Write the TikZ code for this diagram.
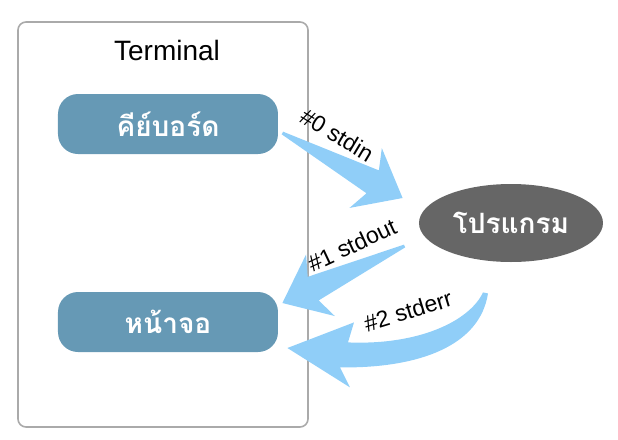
\documentclass[tikz,border=0pt]{standalone}
\usepackage{fontspec}
\setmainfont{Liberation Sans}
\newfontfamily\thaifont[Script=Thai]{Loma}
\usepackage{tikz}
\usetikzlibrary{positioning,shapes.geometric,calc}
\definecolor{boxblue}{HTML}{6699B5}
\definecolor{arrowblue}{HTML}{90CEF8}
\definecolor{termgray}{HTML}{AAAAAA}
\tikzstyle{flow} = [fill=arrowblue]
\newcommand{\fatarrow}[2]{%
	\fill[flow] ($(#1)!0.75pt!90:(#2)$)
		-- ($(#2)!17pt!(#1)!6.5pt!-90:(#1)$)
		-- ($(#2)!21pt!(#1)!17pt!-90:(#1)$)
		-- (#2)
		-- ($(#2)!21pt!(#1)!17pt!90:(#1)$)
		-- ($(#2)!17pt!(#1)!6.5pt!90:(#1)$)
		-- ($(#1)!0.75pt!-90:(#2)$) -- cycle;}

\begin{document}
\begin{tikzpicture}[x=0.5pt,y=-0.5pt,node distance=99pt]
			\tikzstyle{device} = [rectangle, rounded corners=10pt, fill=boxblue, text=white, align=center, minimum height=30pt, minimum width=110pt, font=\thaifont\bfseries\fontsize{14}{16}\selectfont];
			\tikzstyle{stream} = [font=\fontsize{11.5}{13}\selectfont, inner sep=0pt];
			\useasboundingbox (0,0) rectangle (618,440);
			\node (term) [rectangle, rounded corners=4pt, draw=termgray, line width=0.8pt, minimum width=145pt, minimum height=202.5pt] at (163,224.5) {};
			\node (title) at (167,50) {\fontsize{14}{16}\selectfont Terminal};
			\node (kbd) [device] at (168,124) {คีย์บอร์ด};
			\node (scr) [device, below of=kbd] {หน้าจอ};
			\node (prog) [ellipse, fill=black!60, text=white, inner sep=0pt, minimum width=92pt, minimum height=39pt, font=\thaifont\bfseries\fontsize{14}{16}\selectfont] at (511,223) {โปรแกรม};
			\coordinate (in0) at ([shift={(4,9)}]kbd.east);
			\coordinate (in1) at ([shift={(-16,-25)}]prog.west);
			\coordinate (out0) at ([shift={(-14,23)}]prog.west);
			\coordinate (out1) at ([shift={(4,-19)}]scr.east);
			\coordinate (err0) at ([shift={(-26,29)}]prog.south);
			\coordinate (err1) at ([shift={(9,26)}]scr.east);
			\fatarrow{in0}{in1}
			\fatarrow{out0}{out1}
			\begin{scope}[shift={(err0)}]
				\fill[flow] (3,2) .. controls (-5,54) and (-65,77) .. (-145,76) -- (-135,96) -- (err1) -- (-131,31) -- (-137,51) .. controls (-65,54) and (-15,29) .. (-2,1) -- cycle;
			\end{scope}
			\node (stdin) [stream, rotate=-31] at (337,135) {\#0 stdin};
			\node (stdout) [stream, rotate=25] at (352,245) {\#1 stdout};
			\node (stderr) [stream, rotate=17] at (408,311) {\#2 stderr};
		\end{tikzpicture}
\end{document}
